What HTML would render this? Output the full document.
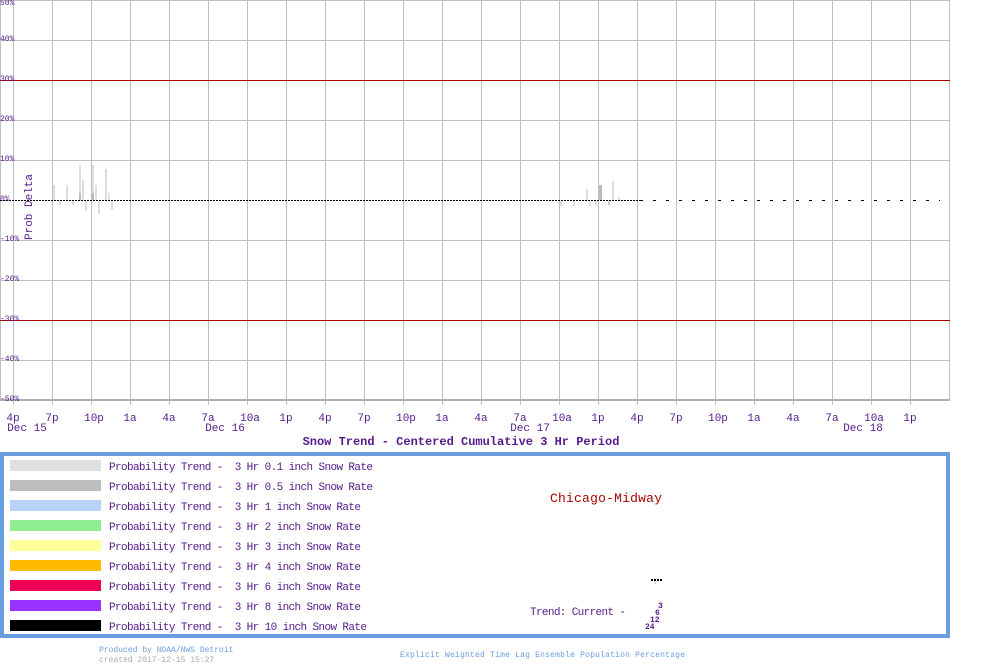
<!DOCTYPE html>
<html><head><style>
html,body{margin:0;padding:0;background:#fff;width:1000px;height:670px;overflow:hidden}
text{font-family:"Liberation Mono",monospace;fill:#551a8b;white-space:pre}
</style></head><body>
<svg width="1000" height="670" viewBox="0 0 1000 670" xmlns="http://www.w3.org/2000/svg" xml:space="preserve">
<g stroke="#c0c0c0" stroke-width="1">
<line x1="0.5" y1="0" x2="0.5" y2="400"/>
<line x1="13.5" y1="0" x2="13.5" y2="405"/><line x1="52.5" y1="0" x2="52.5" y2="405"/><line x1="91.5" y1="0" x2="91.5" y2="405"/><line x1="130.5" y1="0" x2="130.5" y2="405"/><line x1="169.5" y1="0" x2="169.5" y2="405"/><line x1="208.5" y1="0" x2="208.5" y2="405"/><line x1="247.5" y1="0" x2="247.5" y2="405"/><line x1="286.5" y1="0" x2="286.5" y2="405"/><line x1="325.5" y1="0" x2="325.5" y2="405"/><line x1="364.5" y1="0" x2="364.5" y2="405"/><line x1="403.5" y1="0" x2="403.5" y2="405"/><line x1="442.5" y1="0" x2="442.5" y2="405"/><line x1="481.5" y1="0" x2="481.5" y2="405"/><line x1="520.5" y1="0" x2="520.5" y2="405"/><line x1="559.5" y1="0" x2="559.5" y2="405"/><line x1="598.5" y1="0" x2="598.5" y2="405"/><line x1="637.5" y1="0" x2="637.5" y2="405"/><line x1="676.5" y1="0" x2="676.5" y2="405"/><line x1="715.5" y1="0" x2="715.5" y2="405"/><line x1="754.5" y1="0" x2="754.5" y2="405"/><line x1="793.5" y1="0" x2="793.5" y2="405"/><line x1="832.5" y1="0" x2="832.5" y2="405"/><line x1="871.5" y1="0" x2="871.5" y2="405"/><line x1="910.5" y1="0" x2="910.5" y2="405"/><line x1="949.5" y1="0" x2="949.5" y2="400"/>
<line x1="0" y1="0.5" x2="950" y2="0.5"/><line x1="0" y1="40.5" x2="950" y2="40.5"/><line x1="0" y1="120.5" x2="950" y2="120.5"/><line x1="0" y1="160.5" x2="950" y2="160.5"/><line x1="0" y1="240.5" x2="950" y2="240.5"/><line x1="0" y1="280.5" x2="950" y2="280.5"/><line x1="0" y1="360.5" x2="950" y2="360.5"/>
</g>
<line x1="0" y1="400" x2="950" y2="400" stroke="#b0b0b0" stroke-width="2"/>
<line x1="0" y1="80.5" x2="950" y2="80.5" stroke="#aa0000"/>
<line x1="0" y1="320.5" x2="950" y2="320.5" stroke="#aa0000"/>
<g fill="#dddddd">
<rect x="53" y="185" width="2" height="15"/><rect x="66" y="185" width="2" height="15"/><rect x="79" y="165" width="2" height="35"/><rect x="92" y="165" width="2" height="35"/><rect x="105" y="169" width="2" height="31"/><rect x="82" y="180" width="2" height="20"/><rect x="95" y="185" width="2" height="15"/><rect x="108" y="193" width="2" height="7"/>
<rect x="59" y="201" width="2" height="4"/><rect x="85" y="201" width="2" height="10"/><rect x="98" y="201" width="2" height="13"/><rect x="111" y="201" width="2" height="9"/><rect x="72" y="201" width="2" height="4"/>
<rect x="586" y="189" width="2" height="11"/><rect x="612" y="181" width="2" height="19"/><rect x="618" y="197" width="2" height="3"/><rect x="560" y="201" width="2" height="5"/><rect x="573" y="201" width="2" height="5"/><rect x="589" y="201" width="2" height="5"/><rect x="595" y="201" width="2" height="5"/>
</g>
<g fill="#bbbbbb"><rect x="79" y="193" width="2" height="7"/><rect x="92" y="193" width="2" height="7"/><rect x="599" y="185" width="3" height="15"/></g>
<rect x="608" y="201" width="2" height="4" fill="#b8d0f0"/>
<line x1="0" y1="200.5" x2="640" y2="200.5" stroke="#000" stroke-dasharray="2,1"/>
<line x1="640" y1="200.5" x2="940" y2="200.5" stroke="#000" stroke-dasharray="3,10"/>
<g font-size="8">
<text x="0" y="5">50%</text><text x="0" y="41">40%</text><text x="0" y="81">30%</text><text x="0" y="121">20%</text><text x="0" y="161">10%</text><text x="0" y="201">0%</text><text x="0" y="241">-10%</text><text x="0" y="281">-20%</text><text x="0" y="321">-30%</text><text x="0" y="361">-40%</text><text x="0" y="401">-50%</text>
</g>
<text x="32" y="240" font-size="11" transform="rotate(-90 32 240)">Prob Delta</text>
<g font-size="11" text-anchor="middle">
<text x="13" y="421">4p</text><text x="52" y="421">7p</text><text x="94" y="421">10p</text><text x="130" y="421">1a</text><text x="169" y="421">4a</text><text x="208" y="421">7a</text><text x="250" y="421">10a</text><text x="286" y="421">1p</text><text x="325" y="421">4p</text><text x="364" y="421">7p</text><text x="406" y="421">10p</text><text x="442" y="421">1a</text><text x="481" y="421">4a</text><text x="520" y="421">7a</text><text x="562" y="421">10a</text><text x="598" y="421">1p</text><text x="637" y="421">4p</text><text x="676" y="421">7p</text><text x="718" y="421">10p</text><text x="754" y="421">1a</text><text x="793" y="421">4a</text><text x="832" y="421">7a</text><text x="874" y="421">10a</text><text x="910" y="421">1p</text>
<text x="27" y="431">Dec 15</text><text x="225" y="431">Dec 16</text><text x="530" y="431">Dec 17</text><text x="863" y="431">Dec 18</text>
</g>
<text x="461" y="445" font-size="12" font-weight="bold" text-anchor="middle">Snow Trend - Centered Cumulative 3 Hr Period</text>
<rect x="2" y="454" width="946" height="182" fill="none" stroke="#6a9de0" stroke-width="4"/>
<g>
<rect x="10" y="460" width="91" height="11" fill="#e0e0e0"/>
<rect x="10" y="480" width="91" height="11" fill="#bebebe"/>
<rect x="10" y="500" width="91" height="11" fill="#b8d3f8"/>
<rect x="10" y="520" width="91" height="11" fill="#90ee90"/>
<rect x="10" y="540" width="91" height="11" fill="#ffff99"/>
<rect x="10" y="560" width="91" height="11" fill="#ffbb00"/>
<rect x="10" y="580" width="91" height="11" fill="#ee0055"/>
<rect x="10" y="600" width="91" height="11" fill="#9933ff"/>
<rect x="10" y="620" width="91" height="11" fill="#000"/>
</g>
<g font-size="11">
<text x="109" y="470" textLength="264">Probability Trend -  3 Hr 0.1 inch Snow Rate</text>
<text x="109" y="490" textLength="264">Probability Trend -  3 Hr 0.5 inch Snow Rate</text>
<text x="109" y="510" textLength="252">Probability Trend -  3 Hr 1 inch Snow Rate</text>
<text x="109" y="530" textLength="252">Probability Trend -  3 Hr 2 inch Snow Rate</text>
<text x="109" y="550" textLength="252">Probability Trend -  3 Hr 3 inch Snow Rate</text>
<text x="109" y="570" textLength="252">Probability Trend -  3 Hr 4 inch Snow Rate</text>
<text x="109" y="590" textLength="252">Probability Trend -  3 Hr 6 inch Snow Rate</text>
<text x="109" y="610" textLength="252">Probability Trend -  3 Hr 8 inch Snow Rate</text>
<text x="109" y="630" textLength="258">Probability Trend -  3 Hr 10 inch Snow Rate</text>
<text x="530" y="615" textLength="96">Trend: Current -</text>
</g>
<text x="550" y="502" font-size="13" style="fill:#aa0000" textLength="112">Chicago-Midway</text>
<g fill="#000"><rect x="651" y="579" width="2" height="2"/><rect x="654" y="579" width="2" height="2"/><rect x="657" y="579" width="2" height="2"/><rect x="660" y="579" width="2" height="2"/></g>
<rect x="654" y="581" width="2" height="3" fill="#ddd"/>
<g font-size="8" font-weight="bold">
<text x="658" y="608">3</text><text x="655" y="615">6</text><text x="650" y="622">12</text><text x="645" y="629">24</text>
</g>
<g font-size="8">
<text x="99" y="652" style="fill:#6a9de0">Produced by NOAA/NWS Detroit</text>
<text x="99" y="662" style="fill:#aaaaaa">created 2017-12-15 15:27</text>
<text x="400" y="657" style="fill:#6a9de0" textLength="285">Explicit Weighted Time Lag Ensemble Population Percentage</text>
</g>
</svg>
</body></html>
